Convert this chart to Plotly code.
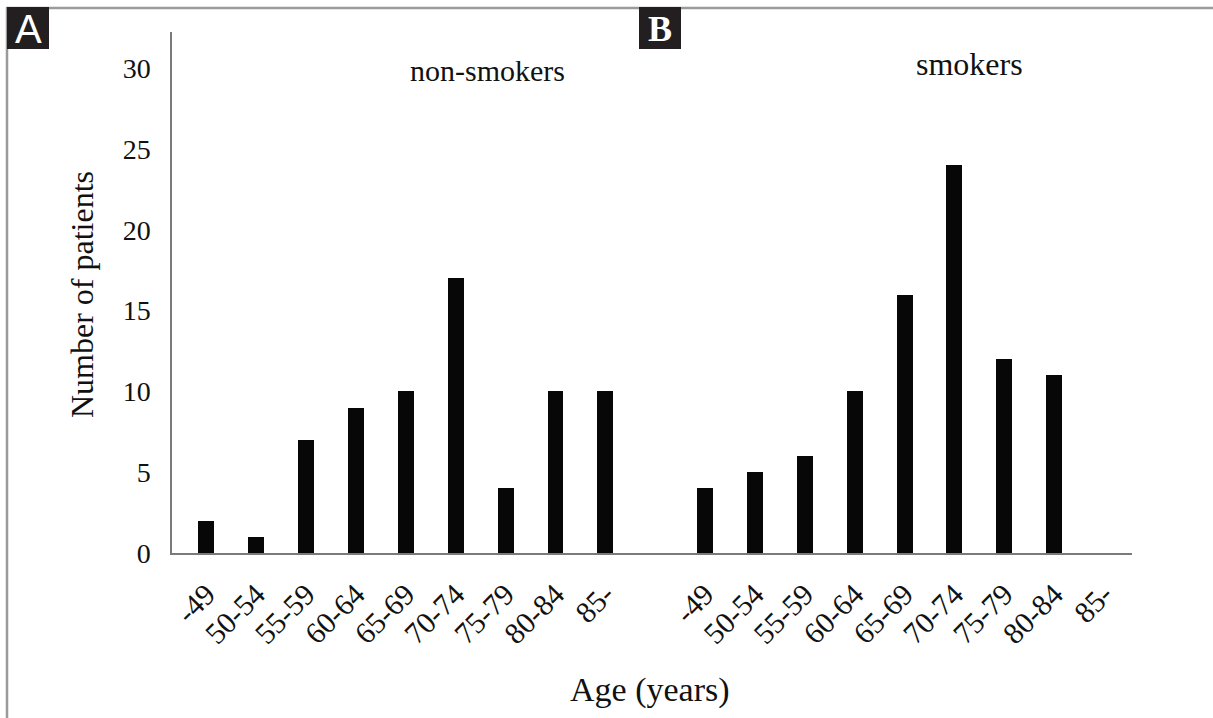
import plotly.graph_objects as go

age_groups = ["-49", "50-54", "55-59", "60-64", "65-69", "70-74", "75-79", "80-84", "85-"]
non_smokers = [2, 1, 7, 9, 10, 17, 4, 10, 10]
smokers = [4, 5, 6, 10, 16, 24, 12, 11, 0]
y_ticks = [0, 5, 10, 15, 20, 25, 30]

W, H = 1213, 718
L, R, T, B = 172, 1132, 32, 553

def px(x):
    return (x - L) / (R - L)

def py(y):
    return (B - y) / (B - T)

pos_ns = list(range(len(age_groups)))
pos_s = [len(age_groups) + 1 + i for i in range(len(age_groups))]

serif = "Liberation Serif"
bar_style = dict(color="#070707", line=dict(width=0))

fig = go.Figure()
fig.add_trace(go.Bar(x=pos_ns, y=non_smokers, width=0.32, marker=bar_style, showlegend=False))
fig.add_trace(go.Bar(x=pos_s, y=smokers, width=0.32, marker=bar_style, showlegend=False))

fig.update_layout(
    width=W, height=H,
    margin=dict(l=L, r=W - R, t=T, b=H - B),
    paper_bgcolor="white", plot_bgcolor="white",
    font=dict(family=serif, color="#111111"),
    xaxis=dict(
        range=[-0.69, 18.56],
        tickvals=pos_ns + pos_s,
        ticktext=age_groups + age_groups,
        tickangle=-45,
        tickfont=dict(family=serif, size=30, color="#111111"),
        showline=True, linecolor="#7a7a7a", linewidth=1.5,
        showgrid=False, zeroline=False, ticks="",
        ticklabelstandoff=10,
    ),
    yaxis=dict(
        range=[0, 32.25],
        tickvals=y_ticks,
        tickfont=dict(family=serif, size=28, color="#111111"),
        showline=True, linecolor="#7a7a7a", linewidth=1.5,
        showgrid=False, zeroline=False, ticks="",
        ticklabelstandoff=14,
    ),
    bargap=0,
)

annotations = [
    dict(text="non-smokers", x=px(487), y=py(70), xref="paper", yref="paper",
         showarrow=False, font=dict(family=serif, size=30, color="#111111"), xanchor="center", yanchor="middle"),
    dict(text="smokers", x=px(969), y=py(64), xref="paper", yref="paper",
         showarrow=False, font=dict(family=serif, size=32, color="#111111"), xanchor="center", yanchor="middle"),
    dict(text="Number of patients", x=px(82), y=py(295), xref="paper", yref="paper", textangle=-90,
         showarrow=False, font=dict(family=serif, size=32, color="#111111"), xanchor="center", yanchor="middle"),
    dict(text="Age (years)", x=px(650), y=py(690), xref="paper", yref="paper",
         showarrow=False, font=dict(family=serif, size=34, color="#111111"), xanchor="center", yanchor="middle"),
    dict(text="A", x=px(28), y=py(29), xref="paper", yref="paper", showarrow=False,
         font=dict(family="Liberation Sans", size=40, color="white"), xanchor="center", yanchor="middle"),
    dict(text="<b>B</b>", x=px(660), y=py(29), xref="paper", yref="paper", showarrow=False,
         font=dict(family=serif, size=36, color="white"), xanchor="center", yanchor="middle"),
]
fig.update_layout(annotations=annotations)

shapes = [
    dict(type="line", xref="paper", yref="paper", x0=px(6), x1=px(W), y0=py(8), y1=py(8),
         line=dict(color="#9a9a9a", width=2.5), layer="below"),
    dict(type="line", xref="paper", yref="paper", x0=px(7), x1=px(7), y0=py(7), y1=py(H),
         line=dict(color="#9a9a9a", width=2.5), layer="below"),
    dict(type="rect", xref="paper", yref="paper", x0=px(7), x1=px(49), y0=py(7), y1=py(49),
         fillcolor="#231f20", line=dict(width=0), layer="below"),
    dict(type="rect", xref="paper", yref="paper", x0=px(639), x1=px(681), y0=py(7), y1=py(49),
         fillcolor="#231f20", line=dict(width=0), layer="below"),
]
fig.update_layout(shapes=shapes)

fig.write_html("out.html")
